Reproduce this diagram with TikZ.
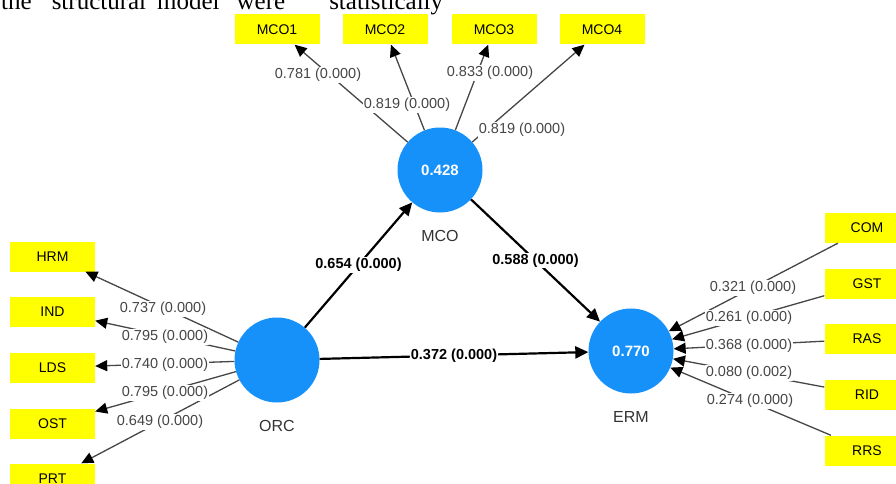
\documentclass[tikz,border=0pt]{standalone}
\usepackage{fontspec}
\setmainfont{Liberation Serif}
\setsansfont{Liberation Sans}
\usetikzlibrary{positioning,arrows.meta}
\definecolor{plsblue}{RGB}{22,145,250}
\definecolor{plsgray}{RGB}{70,70,70}
\definecolor{plsyellow}{RGB}{255,255,0}
\tikzset{
  latent/.style={circle, fill=plsblue, minimum size=85pt, inner sep=0pt, text=white,
    font=\sffamily\bfseries\fontsize{15}{17}\selectfont},
  lvname/.style={font=\sffamily\fontsize{16}{18}\selectfont, text=black!80},
  item/.style={rectangle, fill=plsyellow, minimum width=85pt, minimum height=30pt, inner sep=0pt,
    font=\sffamily\fontsize{14}{16}\selectfont},
  loading/.style={draw=plsgray, line width=1.3pt, -{Triangle[length=12pt,width=11pt,color=black]}},
  relation/.style={draw=black, line width=2.2pt, -{Triangle[length=13pt,width=12pt]}},
  weight/.style={fill=white, inner sep=1pt, text=plsgray, font=\sffamily\fontsize{14.5}{16}\selectfont},
  coeff/.style={fill=white, inner sep=1pt, text=black, font=\sffamily\bfseries\fontsize{14.5}{16}\selectfont}
}
\begin{document}
\begin{tikzpicture}[x=1pt, y=-1pt, node distance=14pt]
  \clip (0,0) rectangle (896,484);

  \node[anchor=base west, inner sep=0pt, font=\rmfamily\fontsize{25}{29}\selectfont] (intro) at (1,9.5)
    {the\hspace{20pt}structural\hspace{11pt}model\hspace{17pt}were\hspace{44pt}statistically};

  \node[latent] (mco) at (440,170) {0.428};
  \node[latent] (orc) at (277,360) {};
  \node[latent] (erm) at (631,351) {0.770};
  \node[lvname, below=of mco] (mconame) {MCO};
  \node[lvname, below=of orc] (orcname) {ORC};
  \node[lvname, below=of erm] (ermname) {ERM};

  \node[item] (mco1) at (277,29.5) {MCO1};
  \node[item] (mco2) at (385,29.5) {MCO2};
  \node[item] (mco3) at (494,29.5) {MCO3};
  \node[item] (mco4) at (602,29.5) {MCO4};

  \node[item] (hrm) at (52.5,256.5) {HRM};
  \node[item] (ind) at (52.5,311.5) {IND};
  \node[item] (lds) at (52.5,367.5) {LDS};
  \node[item] (ost) at (52.5,423.5) {OST};
  \node[item] (prt) at (52.5,478.5) {PRT};

  \node[item] (com) at (867,228) {COM};
  \node[item] (gst) at (867,283.5) {GST};
  \node[item] (ras) at (867,339) {RAS};
  \node[item] (rid) at (867,395) {RID};
  \node[item] (rrs) at (867,450.5) {RRS};

  \foreach \i in {mco1,mco2,mco3,mco4}
    \draw[loading] (mco) -- (\i);
  \foreach \i in {hrm,ind,lds,ost,prt}
    \draw[loading] (orc) -- (\i);
  \foreach \i in {com,gst,ras,rid,rrs}
    \draw[loading] (\i) -- (erm);

  \node[weight] (w1) at (318,75) {0.781 (0.000)};
  \node[weight] (w2) at (407,105) {0.819 (0.000)};
  \node[weight] (w3) at (490,73) {0.833 (0.000)};
  \node[weight] (w4) at (522,130) {0.819 (0.000)};

  \node[weight] (w5) at (163,309) {0.737 (0.000)};
  \node[weight] (w6) at (165,337) {0.795 (0.000)};
  \node[weight] (w7) at (165,365) {0.740 (0.000)};
  \node[weight] (w8) at (165,393) {0.795 (0.000)};
  \node[weight] (w9) at (160,422) {0.649 (0.000)};

  \node[weight] (w10) at (753,288) {0.321 (0.000)};
  \node[weight] (w11) at (749,318) {0.261 (0.000)};
  \node[weight] (w12) at (749,346) {0.368 (0.000)};
  \node[weight] (w13) at (749,373) {0.080 (0.002)};
  \node[weight] (w14) at (750,401) {0.274 (0.000)};

  \draw[relation] (orc) -- node[coeff] (c1) {0.654 (0.000)} (mco);
  \draw[relation] (mco) -- node[coeff] (c2) {0.588 (0.000)} (erm);
  \draw[relation] (orc) -- node[coeff] (c3) {0.372 (0.000)} (erm);
\end{tikzpicture}
\end{document}
